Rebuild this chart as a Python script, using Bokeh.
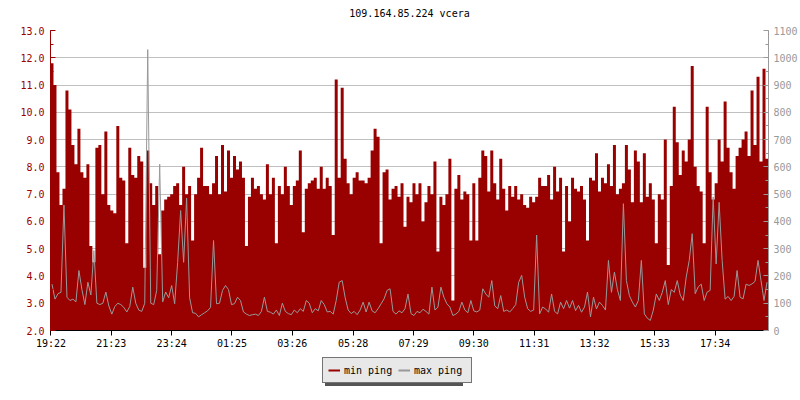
import numpy as np
from bokeh.plotting import figure
from bokeh.layouts import column
from bokeh.core.properties import value
from bokeh.models import (Range1d, LinearAxis, FixedTicker, PrintfTickFormatter,
                          Legend, LegendItem)
from bokeh.embed import file_html
from bokeh.resources import INLINE

title_text = "109.164.85.224 vcera"
start_time = "19:21"
sample_minutes = 6
x_labels = ["19:22", "21:23", "23:24", "01:25", "03:26", "05:28",
            "07:29", "09:30", "11:31", "13:32", "15:33", "17:34"]
left_ticks = [2, 3, 4, 5, 6, 7, 8, 9, 10, 11, 12, 13]
right_ticks = [0, 100, 200, 300, 400, 500, 600, 700, 800, 900, 1000, 1100]
series_names = ["min ping", "max ping"]

# min ping (left axis), one value per 6 minutes
min_ping = [
    11.8, 11.0, 7.8, 6.6, 7.2, 10.8, 10.1, 8.8, 8.1, 9.4,
    7.8, 7.6, 8.1, 5.1, 4.5, 8.7, 8.8, 7.0, 9.3, 6.6,
    6.4, 6.3, 9.5, 7.6, 7.5, 5.2, 8.7, 7.7, 7.6, 8.4,
    8.2, 4.3, 8.6, 7.4, 6.6, 7.3, 4.8, 6.4, 6.8, 6.9,
    7.0, 7.3, 7.4, 6.6, 8.0, 7.0, 7.3, 5.3, 7.0, 7.6,
    8.7, 7.3, 7.3, 7.0, 7.4, 8.4, 7.0, 8.8, 7.1, 8.6,
    7.6, 8.4, 7.9, 8.2, 7.6, 5.1, 6.9, 7.6, 7.2, 7.3,
    7.0, 6.8, 8.1,
    7.0, 7.6, 5.2, 7.3, 7.0, 8.0, 7.3, 6.6, 7.3, 7.5,
    8.6, 5.6, 7.2, 7.4, 7.5, 7.6, 7.2, 8.0, 7.2, 7.6,
    7.3, 5.5, 11.2, 7.6, 10.9, 8.3, 7.4, 7.0, 7.6, 7.8,
    7.5, 7.5, 7.4, 7.6, 8.6, 9.4, 9.1, 5.2, 7.8, 7.9,
    6.8, 7.2, 7.3, 6.9, 7.4, 5.8, 6.9, 6.7, 7.4, 7.0,
    7.4, 6.0, 6.7, 7.3, 7.0, 8.2, 4.9, 6.9, 6.6, 7.0,
    8.3, 3.1, 7.2, 7.7, 6.8, 7.1, 7.0, 5.3, 7.4, 5.3,
    7.6, 8.6, 8.4, 7.1, 8.6, 7.4, 6.8, 8.3, 7.2, 6.4,
    7.3, 6.9, 7.3, 6.8, 7.0, 6.6, 6.5, 6.9, 6.7, 6.9,
    7.6, 7.3, 7.3, 7.7, 6.8, 8.0, 7.1, 7.6, 4.9, 7.3,
    6.0, 7.6, 7.2, 7.1, 7.3, 6.8, 5.3, 7.6, 7.5, 8.5,
    7.1, 7.6, 7.4, 8.1, 7.3, 8.8, 7.0, 7.2, 7.4, 8.8,
    7.9, 6.7, 8.6, 8.2, 6.7, 8.5, 6.9, 7.4, 6.8, 5.2,
    7.0, 6.8, 9.0, 4.4, 7.3, 10.2, 8.9, 7.7, 8.6, 8.2,
    9.0, 11.7, 8.0, 7.3, 7.1, 5.2, 10.2, 7.8, 6.8, 7.4,
    9.0, 8.2, 10.4, 8.7, 7.8, 7.2, 8.4, 8.7, 9.0, 9.3,
    8.4, 10.8, 8.8, 11.3, 8.2, 11.6, 8.3,
]

# max ping (right axis), one value per 6 minutes
max_ping = [
    170, 115, 135, 140, 460, 122, 110, 115, 105, 220,
    150, 95, 177, 130, 293, 100, 95, 100, 141, 90,
    60, 88, 100, 95, 85, 68, 88, 159, 100, 75,
    70, 100, 1030, 100, 95, 147, 610, 105, 141, 120,
    165, 98, 250, 440, 250, 486, 120, 65, 63, 50,
    58, 65, 72, 85, 330, 98, 100, 147, 165, 150,
    95, 98, 122, 110, 68, 60, 55, 58, 60, 55,
    70, 122, 70,
    67, 60, 75, 55, 100, 70, 62, 58, 75, 65,
    80, 70, 110, 100, 65, 80, 72, 110, 95, 68,
    70, 60, 110, 177, 183, 120, 75, 62, 70, 58,
    75, 104, 68, 104, 72, 65, 80, 98, 116, 147,
    153, 70, 60, 72, 65, 80, 134, 62, 55, 70,
    65, 78, 70, 60, 159, 75, 85, 159, 122, 98,
    86, 55, 60, 70, 104, 75, 65, 110, 72, 68,
    75, 153, 134, 122, 183, 90, 80, 128, 70, 75,
    68, 80, 95, 177, 202, 122, 80, 70, 75, 350,
    61, 86, 79, 67, 134, 70, 61, 104, 80, 110,
    82, 110, 73, 92, 67, 86, 141, 50, 122, 79,
    104, 92, 75, 257, 140, 214, 150, 110, 465, 183,
    128, 104, 86, 110, 257, 61, 45, 37, 75, 134,
    110, 140, 183, 95, 150, 140, 183, 130, 110, 196,
    257, 355, 135, 160, 170, 110, 141, 147, 490, 244,
    470, 257, 115, 125, 110, 125, 220, 122, 116, 170,
    165, 171, 180, 257, 183, 110, 177,
]

RED = "#990000"
GRAY = "#999999"
FONT = "DejaVu Sans Mono"
W = 800
TITLE_H, MAIN_H, LEGEND_H = 22, 330, 48


def minutes_since_start(label):
    h, m = map(int, label.split(":"))
    sh, sm = map(int, start_time.split(":"))
    return ((h * 60 + m) - (sh * 60 + sm)) % 1440


tick_pos = [minutes_since_start(t) for t in x_labels]
x_edges = np.arange(len(min_ping) + 1) * sample_minutes
y_min = list(min_ping) + [min_ping[-1]]
x_centers = np.arange(len(max_ping)) * sample_minutes + sample_minutes / 2
x_span = 24 * 60


def strip(height, xr, yr):
    f = figure(width=W, height=height, output_backend="svg", toolbar_location=None,
               x_range=xr, y_range=yr, min_border=0, min_border_left=0,
               min_border_right=0, min_border_top=0, min_border_bottom=0)
    f.axis.visible = False
    f.grid.visible = False
    f.outline_line_color = None
    f.background_fill_color = "white"
    f.border_fill_color = "white"
    return f


# title strip
tf = strip(TITLE_H, Range1d(0, x_span), Range1d(0, TITLE_H))
tf.text(x=[x_span / 2], y=[TITLE_H - 13], text=[title_text],
        text_align="center", text_baseline="middle",
        text_font=value(FONT), text_font_size="10px", text_color="black")

# main chart
p = figure(width=W, height=MAIN_H, output_backend="svg", toolbar_location=None,
           x_range=Range1d(0, x_span), y_range=Range1d(left_ticks[0], left_ticks[-1]),
           min_border_left=50, min_border_right=30, min_border_top=8,
           min_border_bottom=22)
p.outline_line_color = None
p.background_fill_color = "white"
p.border_fill_color = "white"

p.extra_y_ranges = {"right": Range1d(right_ticks[0], right_ticks[-1])}
raxis = LinearAxis(y_range_name="right")
p.add_layout(raxis, "right")

# grids
p.xgrid.visible = False
p.ygrid.ticker = FixedTicker(ticks=left_ticks)
p.ygrid.grid_line_color = "#c0c0c0"
p.ygrid.grid_line_width = 1

# left axis
lax = p.yaxis[0]
lax.ticker = FixedTicker(ticks=left_ticks,
                         minor_ticks=list(np.arange(left_ticks[0], left_ticks[-1] + 0.01, 0.5)))
lax.formatter = PrintfTickFormatter(format="%.1f")
lax.axis_line_color = RED
lax.major_tick_line_color = RED
lax.minor_tick_line_color = RED
lax.major_tick_in = 5
lax.major_tick_out = 0
lax.minor_tick_in = 3
lax.minor_tick_out = 0
lax.major_label_text_color = RED
lax.major_label_text_font = FONT
lax.major_label_text_font_size = "10px"
lax.major_label_standoff = 6

# right axis
raxis.ticker = FixedTicker(ticks=right_ticks,
                           minor_ticks=list(range(right_ticks[0], right_ticks[-1] + 1, 50)))
raxis.formatter = PrintfTickFormatter(format="%d")
raxis.axis_line_color = GRAY
raxis.major_tick_line_color = GRAY
raxis.minor_tick_line_color = GRAY
raxis.major_tick_in = 5
raxis.major_tick_out = 0
raxis.minor_tick_in = 3
raxis.minor_tick_out = 0
raxis.major_label_text_color = GRAY
raxis.major_label_text_font = FONT
raxis.major_label_text_font_size = "10px"
raxis.major_label_standoff = 5

# bottom axis
xax = p.xaxis[0]
xax.ticker = FixedTicker(ticks=tick_pos)
xax.major_label_overrides = {tp: lab for tp, lab in zip(tick_pos, x_labels)}
xax.axis_line_color = "black"
xax.major_tick_line_color = "black"
xax.major_tick_in = 0
xax.major_tick_out = 5
xax.minor_tick_in = 0
xax.minor_tick_out = 0
xax.major_label_text_color = "black"
xax.major_label_text_font = FONT
xax.major_label_text_font_size = "10px"
xax.major_label_standoff = 2

# data
p.varea_step(x=x_edges, y1=left_ticks[0], y2=y_min, step_mode="after",
             fill_color=RED, fill_alpha=1.0)
p.line(x=x_centers, y=max_ping, line_color=GRAY, line_width=1,
       y_range_name="right")

# legend strip below the chart
lg = strip(LEGEND_H, Range1d(0, W), Range1d(0, LEGEND_H))
leg_min = lg.line(x=[np.nan, np.nan], y=[np.nan, np.nan], line_color=RED, line_width=2)
leg_max = lg.line(x=[np.nan, np.nan], y=[np.nan, np.nan], line_color=GRAY, line_width=2)


def make_legend(loc, labels, bg, border):
    return Legend(items=[LegendItem(label=labels[0], renderers=[leg_min]),
                         LegendItem(label=labels[1], renderers=[leg_max])],
                  location=loc, orientation="horizontal",
                  background_fill_color=bg, background_fill_alpha=1.0,
                  border_line_color=border, border_line_width=1,
                  label_text_font=FONT, label_text_font_size="10px",
                  label_text_color="black",
                  padding=5, spacing=2, margin=0, glyph_width=12, glyph_height=14,
                  label_standoff=4, label_height=14, label_width=52)


# drop shadow (same size, blank labels), then the legend itself
lg.add_layout(make_legend((275, 14), [" ", " "], "#555555", None))
lg.add_layout(make_legend((272, 17), series_names, "#e8e8e8", "black"))

layout = column(tf, p, lg, spacing=0)
open("out.html", "w").write(file_html(layout, INLINE))
